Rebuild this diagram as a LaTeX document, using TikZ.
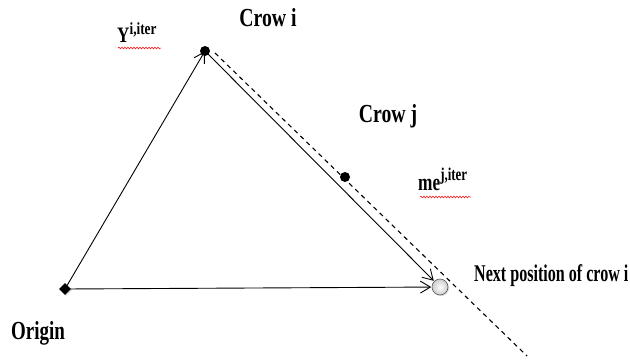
\documentclass[tikz,border=0pt]{standalone}
\usepackage{fontspec}
\setmainfont{Liberation Serif}
\usepackage{graphicx}
\usetikzlibrary{arrows.meta,decorations.pathmorphing,shadows,shapes.geometric}
\tikzset{
  lbl/.style={inner sep=0pt, font=\bfseries},
  arr/.style={draw=black, line width=0.9pt, -{Straight Barb[length=10pt,width=12pt,line width=0.9pt]}, shorten >=0.5pt},
  dotnode/.style={circle, fill=black, inner sep=0pt, minimum size=10pt},
  squig/.style={draw=red, line width=0.5pt, decorate, decoration={snake, amplitude=0.9pt, segment length=3pt}},
}
\begin{document}
\begin{tikzpicture}[x=1pt,y=-1pt]
\useasboundingbox (0,0) rectangle (630,360);
% dashed line
\coordinate (ds) at (215,53);
\coordinate (de) at (527,356);
\draw[line width=1.1pt, dash pattern=on 4.5pt off 4pt] (ds) -- (de);
% points
\node[dotnode] (ci) at (205,51) {};
\node[dotnode] (cj) at (345,177) {};
\node[diamond, fill=black, inner sep=0pt, minimum size=12pt, drop shadow={opacity=0.3, shadow xshift=1pt, shadow yshift=-1pt}] (o) at (65,289) {};
\node[circle, draw=gray!70!black, line width=0.6pt, inner color=white, outer color=gray!40, minimum size=16pt, inner sep=0pt, drop shadow={opacity=0.3, shadow xshift=1pt, shadow yshift=-1pt}] (np) at (440,287) {};
% arrows
\draw[arr] (o.center) -- (ci.center);
\draw[arr] (ci.center) -- (np);
\draw[arr] (o.center) -- (np);
% labels
\node[lbl, anchor=base] (tci) at (268,26) {\fontsize{26}{26}\selectfont\scalebox{0.76}[1]{Crow i}};
\node[lbl, anchor=base] (tcj) at (388,122) {\fontsize{26}{26}\selectfont\scalebox{0.76}[1]{Crow j}};
\node[lbl, anchor=base] (tor) at (38,339) {\fontsize{26}{26}\selectfont\scalebox{0.73}[1]{Origin}};
\node[lbl, anchor=base west] (tnp) at (474,281) {\fontsize{24}{24}\selectfont\scalebox{0.67}[1]{Next position of crow i}};
\node[lbl, anchor=base west] (ty) at (117,42) {\fontsize{22}{22}\selectfont\scalebox{0.78}[1]{Y\textsuperscript{\fontsize{17}{17}\selectfont i,iter}}};
\node[lbl, anchor=base west] (tme) at (418,190) {\fontsize{24}{24}\selectfont\scalebox{0.72}[1]{me\textsuperscript{\fontsize{18}{18}\selectfont j,iter}}};
% spell-check squiggles
\coordinate (s1a) at (118,48);
\coordinate (s1b) at (161,48);
\coordinate (s2a) at (420,197);
\coordinate (s2b) at (471,197);
\draw[squig] (s1a) -- (s1b);
\draw[squig] (s2a) -- (s2b);
\end{tikzpicture}
\end{document}
